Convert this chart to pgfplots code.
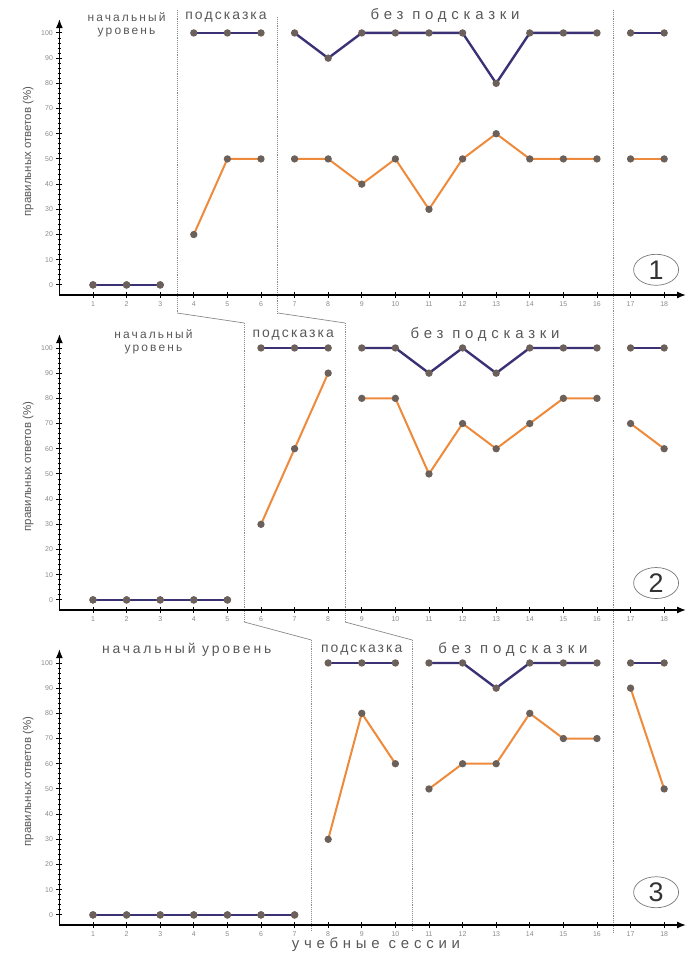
\documentclass[border=0pt]{standalone}
\usepackage{pgfplots}
\pgfplotsset{compat=1.18}
\usepackage{fontspec}
\setmainfont{Liberation Sans}
\newfontfamily\spcA[LetterSpace=15]{Liberation Sans}
\newfontfamily\spcB[LetterSpace=32]{Liberation Sans}
\newfontfamily\spcC[LetterSpace=20]{Liberation Sans}
\newfontfamily\spcD[LetterSpace=18]{Liberation Sans}
\usetikzlibrary{arrows.meta,shapes.geometric}
\definecolor{bl}{HTML}{3B3275}
\definecolor{orn}{HTML}{EE8A3C}
\definecolor{mk}{HTML}{6B605A}
\definecolor{txt}{HTML}{585858}
\definecolor{tick}{HTML}{8A8A8A}
\definecolor{phase}{HTML}{8A8A8A}

\pgfplotsset{
 panel/.style={
  scale only axis, width=626.6bp, height=275.9bp,
  xmin=0, xmax=18.65, ymin=-4, ymax=105.5,
  axis lines=left,
  axis line style={line width=1.4bp, -{Latex[length=9bp,width=7bp]}},
  xtick={1,...,18}, ytick={0,10,...,100}, minor y tick num=4,
  tick align=center, major tick length=6bp, minor tick length=3.5bp,
  every tick/.style={black, line width=0.9bp},
  ticklabel style={font=\fontsize{7}{7}\selectfont, text=tick},
  /pgf/number format/assume math mode=true,
  clip=false, anchor=south west,
  ylabel={правильных ответов (\%)},
  ylabel style={font=\fontsize{11.5}{12}\selectfont, text=txt,
    at={(axis description cs:-0.05,0.52)}, anchor=center},
 },
}
\tikzset{
 serB/.style={bl, line width=2.4bp, mark=*, mark size=2.4bp, mark options={fill=mk, draw=mk}},
 serO/.style={orn, line width=2bp, mark=*, mark size=2.6bp, mark options={fill=mk, draw=mk}},
 ttl/.style={text=txt, font=\spcA\fontsize{14}{14}\selectfont, anchor=center},
 ttlB/.style={text=txt, font=\spcB\fontsize{15}{15}\selectfont, anchor=center},
 ttlC/.style={text=txt, font=\spcC\fontsize{14}{14}\selectfont, anchor=center},
 ttlS/.style={text=txt, font=\spcD\fontsize{12}{13}\selectfont, align=center, anchor=north},
 num/.style={draw=txt!80, line width=0.7bp, ellipse, minimum width=45bp, minimum height=31bp, inner sep=0pt, font=\fontsize{27}{27}\selectfont, text=black!80},
}

\begin{document}
\begin{tikzpicture}
\useasboundingbox (0,0) rectangle (688bp,954bp);
% phase change lines
\draw[phase, line width=0.9bp, densely dotted] (177bp,944bp) -- (177bp,641bp);
\draw[phase, line width=0.7bp] (177bp,641bp) -- (244.2bp,631bp);
\draw[phase, line width=0.9bp, densely dotted] (244.2bp,631bp) -- (244.2bp,332bp);
\draw[phase, line width=0.7bp] (244.2bp,332bp) -- (311.4bp,314bp);
\draw[phase, line width=0.9bp, densely dotted] (311.4bp,314bp) -- (311.4bp,22bp);
\draw[phase, line width=0.9bp, densely dotted] (277.8bp,937bp) -- (277.8bp,641bp);
\draw[phase, line width=0.7bp] (277.8bp,641bp) -- (345bp,631bp);
\draw[phase, line width=0.9bp, densely dotted] (345bp,631bp) -- (345bp,332bp);
\draw[phase, line width=0.7bp] (345bp,332bp) -- (412.2bp,314bp);
\draw[phase, line width=0.9bp, densely dotted] (412.2bp,314bp) -- (412.2bp,22bp);
\draw[phase, line width=0.9bp, densely dotted] (613.8bp,944bp) -- (613.8bp,22bp);

% ---------- Panel 1 ----------
\begin{axis}[panel, at={(59.4bp,659bp)}]
\addplot[serO] coordinates {(1,0) (2,0) (3,0)};
\addplot[serB] coordinates {(1,0) (2,0) (3,0)};
\addplot[serO] coordinates {(4,20) (5,50) (6,50)};
\addplot[serB] coordinates {(4,100) (5,100) (6,100)};
\addplot[serO] coordinates {(7,50) (8,50) (9,40) (10,50) (11,30) (12,50) (13,60) (14,50) (15,50) (16,50)};
\addplot[serB] coordinates {(7,100) (8,90) (9,100) (10,100) (11,100) (12,100) (13,80) (14,100) (15,100) (16,100)};
\addplot[serO] coordinates {(17,50) (18,50)};
\addplot[serB] coordinates {(17,100) (18,100)};
\node[ttlS] at (axis cs:2.0,109.5) {начальный\\уровень};
\node[ttl] at (axis cs:4.96,106.3) {подсказка};
\node[ttlB] at (axis cs:11.48,107) {без подсказки};
\node[num] at (axis cs:17.76,6) {1};
\end{axis}

% ---------- Panel 2 ----------
\begin{axis}[panel, at={(59.4bp,344bp)}]
\addplot[serO] coordinates {(1,0) (2,0) (3,0) (4,0) (5,0)};
\addplot[serB] coordinates {(1,0) (2,0) (3,0) (4,0) (5,0)};
\addplot[serO] coordinates {(6,30) (7,60) (8,90)};
\addplot[serB] coordinates {(6,100) (7,100) (8,100)};
\addplot[serO] coordinates {(9,80) (10,80) (11,50) (12,70) (13,60) (14,70) (15,80) (16,80)};
\addplot[serB] coordinates {(9,100) (10,100) (11,90) (12,100) (13,90) (14,100) (15,100) (16,100)};
\addplot[serO] coordinates {(17,70) (18,60)};
\addplot[serB] coordinates {(17,100) (18,100)};
\node[ttlS] at (axis cs:2.8,108.5) {начальный\\уровень};
\node[ttl] at (axis cs:6.96,105.2) {подсказка};
\node[ttlB] at (axis cs:12.67,105.2) {без подсказки};
\node[num] at (axis cs:17.76,6.7) {2};
\end{axis}

% ---------- Panel 3 ----------
\begin{axis}[panel, at={(59.4bp,29bp)}]
\addplot[serO] coordinates {(1,0) (2,0) (3,0) (4,0) (5,0) (6,0) (7,0)};
\addplot[serB] coordinates {(1,0) (2,0) (3,0) (4,0) (5,0) (6,0) (7,0)};
\addplot[serO] coordinates {(8,30) (9,80) (10,60)};
\addplot[serB] coordinates {(8,100) (9,100) (10,100)};
\addplot[serO] coordinates {(11,50) (12,60) (13,60) (14,80) (15,70) (16,70)};
\addplot[serB] coordinates {(11,100) (12,100) (13,90) (14,100) (15,100) (16,100)};
\addplot[serO] coordinates {(17,90) (18,50)};
\addplot[serB] coordinates {(17,100) (18,100)};
\node[ttlC] at (axis cs:3.79,105.2) {начальный уровень};
\node[ttl] at (axis cs:9.0,105.2) {подсказка};
\node[ttlB] at (axis cs:13.5,105.2) {без подсказки};
\node[num] at (axis cs:17.76,9) {3};
\node[text=txt, font=\spcB\fontsize{15}{15}\selectfont, anchor=center] at (axis cs:9.42,-11.9) {учебные сессии};
\end{axis}
\end{tikzpicture}
\end{document}
